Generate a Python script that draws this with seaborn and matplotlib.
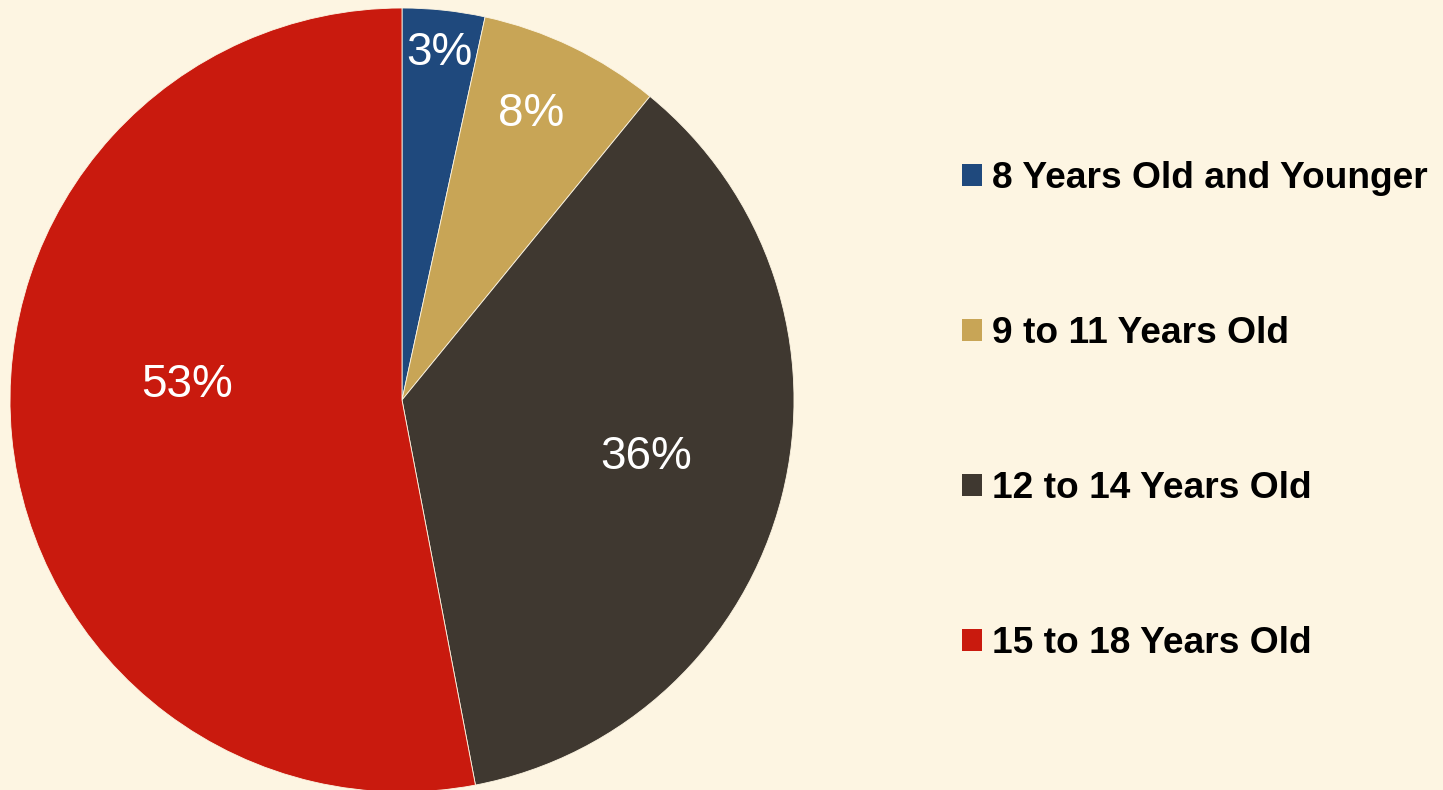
import numpy as np
import matplotlib
matplotlib.use("Agg")
import matplotlib.pyplot as plt
import seaborn as sns

categories = ["8 Years Old and Younger", "9 to 11 Years Old", "12 to 14 Years Old", "15 to 18 Years Old"]
values = [3.4, 7.5, 36.1, 53.0]
pct_labels = ["3%", "8%", "36%", "53%"]
colors = ["#1F497D", "#C8A556", "#3F3830", "#C91A0E"]
bg = "#FDF5E2"

sns.set_theme(style="white")
plt.rcParams['font.family'] = ['Liberation Sans', 'DejaVu Sans']

fig = plt.figure(figsize=(14.43, 7.90), dpi=100)
fig.patch.set_facecolor(bg)

ax = fig.add_axes([10/1443, -2/790, 784/1443, 784/790])
ax.set_facecolor(bg)
wedges, _ = ax.pie(values, colors=colors, startangle=90, counterclock=False,
                   radius=1.0, wedgeprops=dict(linewidth=0.6, edgecolor=bg))
ax.set_xlim(-1, 1)
ax.set_ylim(-1, 1)
ax.set_aspect('equal')
ax.axis('off')

label_dist = [0.89, 0.80, 0.64, 0.55]
label_angle_offset = [0, 1.5, 1.0, -9.5]
for w, lab, d, off in zip(wedges, pct_labels, label_dist, label_angle_offset):
    ang = np.deg2rad((w.theta1 + w.theta2) / 2 + off)
    ax.text(d * np.cos(ang), d * np.sin(ang), lab, color="white", fontsize=33,
            ha="center", va="center")

leg = fig.legend(wedges, categories, loc="upper left", bbox_to_anchor=(962/1443, 1 - 161/790),
                 frameon=False, prop=dict(size=26.7, weight="bold"),
                 handlelength=0.54, handleheight=0.54, handletextpad=0.26,
                 labelspacing=3.24, borderpad=0, borderaxespad=0)
for t in leg.get_texts():
    t.set_color("black")
for h in leg.legend_handles:
    h.set_linewidth(0)

fig.savefig("out.png", dpi=100, facecolor=bg)
